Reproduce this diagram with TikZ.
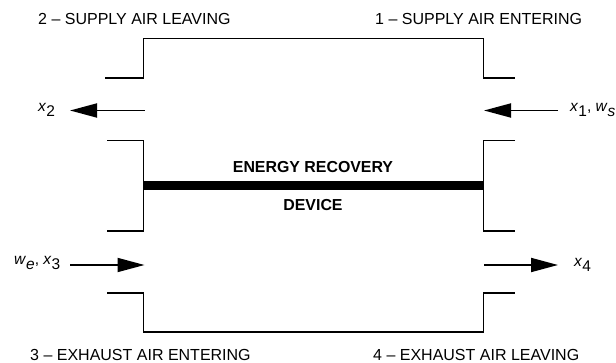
\documentclass[tikz,border=0pt]{standalone}
\usepackage{fontspec}
\setmainfont{Liberation Sans}
\usetikzlibrary{arrows.meta}

\newcommand{\flowvar}[2]{\textit{#1}\raisebox{-5pt}{#2}}

\tikzset{
    wall/.style={line width=1.9pt, line cap=butt, line join=miter},
    flow/.style={line width=1.8pt, -{Triangle[length=27pt,width=14pt]}},
    portlabel/.style={font=\fontsize{16}{19}\selectfont, anchor=base west, inner sep=0pt},
    varlabel/.style={font=\fontsize{15.5}{18}\selectfont, anchor=base west, inner sep=0pt},
    devicelabel/.style={font=\fontsize{15.9}{19}\bfseries\selectfont, anchor=base, inner sep=0pt}
}

\begin{document}
\begin{tikzpicture}[x=1pt, y=-1pt]
    \useasboundingbox (0,0) rectangle (616,363);

    % upper duct
    \coordinate (sup_l_a) at (105,78);
    \coordinate (sup_l_b) at (143.5,78);
    \coordinate (sup_l_c) at (143.5,38.5);
    \coordinate (sup_r_c) at (483.5,38.5);
    \coordinate (sup_r_b) at (483.5,78);
    \coordinate (sup_r_a) at (515,78);
    \draw[wall]
        (sup_l_a) -- (sup_l_b) -- (sup_l_c) --
        (sup_r_c) -- (sup_r_b) -- (sup_r_a);

    \coordinate (mid_l_a) at (107,140.5);
    \coordinate (mid_l_b) at (143.5,140.5);
    \coordinate (mid_l_c) at (143.5,231);
    \coordinate (mid_l_d) at (107,231);
    \draw[wall]
        (mid_l_a) -- (mid_l_b) -- (mid_l_c) -- (mid_l_d);

    \coordinate (mid_r_a) at (515,140.5);
    \coordinate (mid_r_b) at (483.5,140.5);
    \coordinate (mid_r_c) at (483.5,231);
    \coordinate (mid_r_d) at (515,231);
    \draw[wall]
        (mid_r_a) -- (mid_r_b) -- (mid_r_c) -- (mid_r_d);

    % lower duct
    \coordinate (exh_l_a) at (107,293);
    \coordinate (exh_l_b) at (143.5,293);
    \coordinate (exh_l_c) at (143.5,332);
    \coordinate (exh_r_c) at (483.5,332);
    \coordinate (exh_r_b) at (483.5,293);
    \coordinate (exh_r_a) at (515,293);
    \draw[wall]
        (exh_l_a) -- (exh_l_b) -- (exh_l_c) --
        (exh_r_c) -- (exh_r_b) -- (exh_r_a);

    % recovery device
    \coordinate (core_l) at (143.5,185.5);
    \coordinate (core_r) at (483.5,185.5);
    \draw[line width=9.5pt] (core_l) -- (core_r);
    \node[devicelabel] (core_top) at (313,173) {ENERGY RECOVERY};
    \node[devicelabel] (core_bot) at (313,211) {DEVICE};

    % flows
    \coordinate (flow_2a) at (144.5,110.5);
    \coordinate (flow_2b) at (70,110.5);
    \draw[flow] (flow_2a) -- (flow_2b);

    \coordinate (flow_1a) at (558,110.5);
    \coordinate (flow_1b) at (484,110.5);
    \draw[flow] (flow_1a) -- (flow_1b);

    \coordinate (flow_3a) at (70,265);
    \coordinate (flow_3b) at (144.5,265);
    \draw[flow] (flow_3a) -- (flow_3b);

    \coordinate (flow_4a) at (484,265);
    \coordinate (flow_4b) at (558,265);
    \draw[flow] (flow_4a) -- (flow_4b);

    % ports
    \node[portlabel] (port_2) at (38,24.5) {2 – SUPPLY AIR LEAVING};
    \node[portlabel] (port_1) at (375,24.5) {1 – SUPPLY AIR ENTERING};
    \node[portlabel] (port_3) at (30,360.5) {3 – EXHAUST AIR ENTERING};
    \node[portlabel] (port_4) at (373,360.5) {4 – EXHAUST AIR LEAVING};

    % variables
    \node[varlabel] (var_2) at (38,112) {\flowvar{x}{2}};
    \node[varlabel] (var_1) at (570,112) {\flowvar{x}{1}, \flowvar{w}{\textit{s}}};
    \node[varlabel] (var_3) at (14,265) {\flowvar{w}{\textit{e}}, \flowvar{x}{3}};
    \node[varlabel] (var_4) at (574,267) {\flowvar{x}{4}};
\end{tikzpicture}
\end{document}
